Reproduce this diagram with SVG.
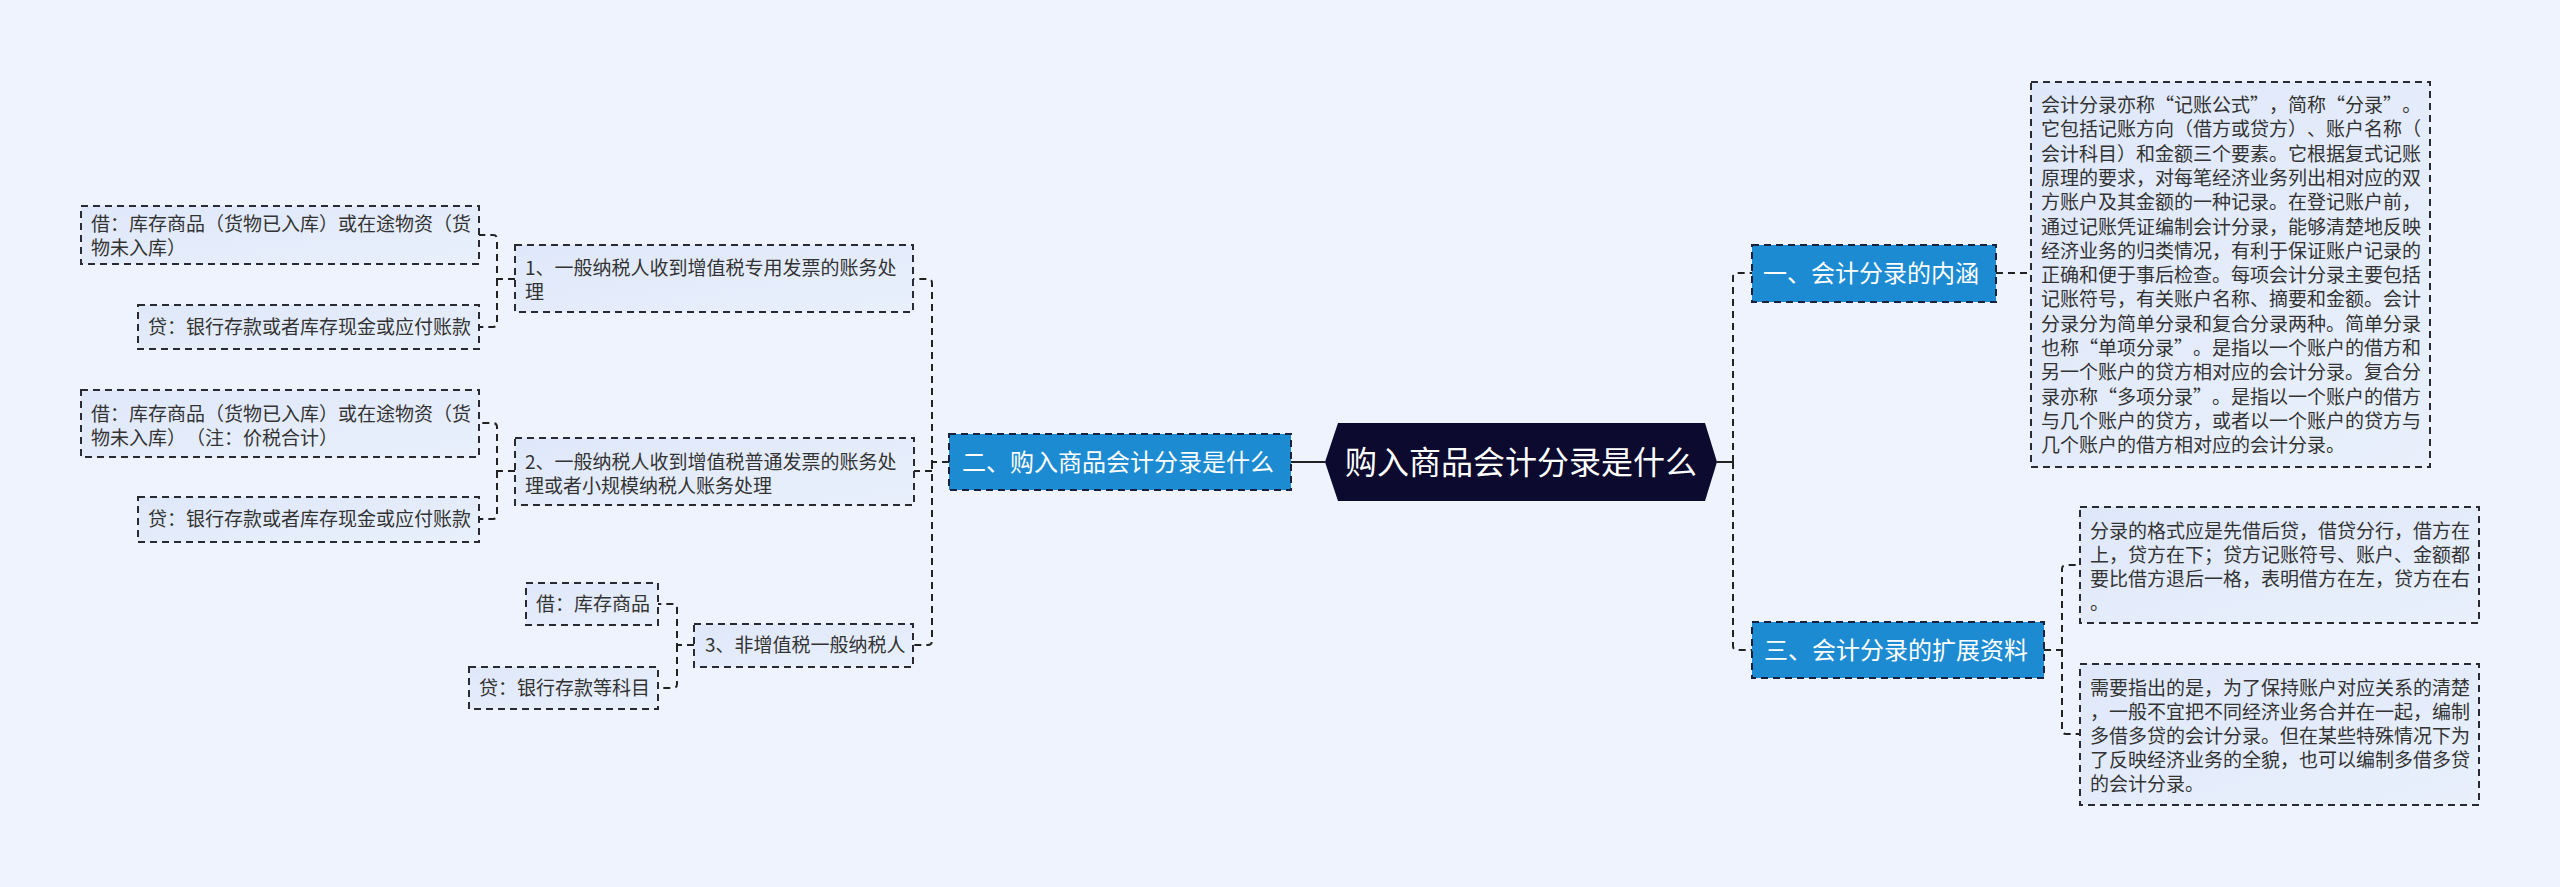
<svg xmlns="http://www.w3.org/2000/svg" width="2560" height="887" viewBox="0 0 2560 887">
<defs>
<linearGradient id="leafg" x1="0" y1="0" x2="1" y2="1">
<stop offset="0" stop-color="#dfe8fa"/>
<stop offset="1" stop-color="#e9f0fc"/>
</linearGradient>
<style>
.bg{fill:#eef3fd}
.leaf{fill:url(#leafg);stroke:#2a2a33;stroke-width:2;stroke-dasharray:7 5}
.blue{fill:#1d8bd2;stroke:#16223e;stroke-width:2;stroke-dasharray:7 5}
.root{fill:#0c0a2e}
text{text-spacing-trim:space-all}
.t{font-family:"Noto Sans CJK SC","Noto Sans",sans-serif;font-size:19px;fill:#333}
.tb{font-family:"Noto Sans CJK SC","Noto Sans",sans-serif;font-size:24px;fill:#fff}
.tr{font-family:"Noto Sans CJK SC","Noto Sans",sans-serif;font-size:32px;fill:#fff}
.fw{font-feature-settings:"fwid"}
.c{fill:none;stroke:#222;stroke-width:2;stroke-dasharray:7 5}
.cs{fill:none;stroke:#222;stroke-width:2}
</style>
</defs>
<rect class="bg" x="0" y="0" width="2560" height="887"/>
<g id="connectors">
<path class="cs" d="M1291 462 H1325"/>
<path class="cs" d="M1717 462 H1733"/>
<path class="c" d="M1733 462 V277 Q1733 273 1737 273 H1752"/>
<path class="c" d="M1733 462 V646 Q1733 650 1737 650 H1752"/>
<path class="c" d="M1996 273 H2031"/>
<path class="c" d="M2044 650 H2062 V569 Q2062 565 2066 565 H2080"/>
<path class="c" d="M2062 650 V730 Q2062 734 2066 734 H2080"/>
<path class="c" d="M949 462 H932 V283 Q932 279 928 279 H913"/>
<path class="c" d="M932 462 V641 Q932 645 928 645 H913"/>
<path class="c" d="M932 471 H914"/>
<path class="c" d="M515 279 H497 V239 Q497 235 493 235 H479"/>
<path class="c" d="M497 279 V323 Q497 327 493 327 H479"/>
<path class="c" d="M515 471 H497 V427 Q497 423 493 423 H479"/>
<path class="c" d="M497 471 V515 Q497 519 493 519 H479"/>
<path class="c" d="M694 645 H677 V608 Q677 604 673 604 H658"/>
<path class="c" d="M677 645 V684 Q677 688 673 688 H658"/>
</g>
<g id="root">
<polygon class="root" points="1325,462 1338,423 1705,423 1717,462 1705,501 1338,501"/>
<text class="tr" x="1521" y="474" text-anchor="middle">购入商品会计分录是什么</text>
</g>
<g id="n1">
<rect class="blue" x="1752" y="245" width="244" height="57"/>
<text class="tb" x="1763" y="282">一、会计分录的内涵</text>
</g>
<g id="n2">
<rect class="blue" x="949" y="434" width="342" height="56"/>
<text class="tb" x="962" y="471">二、购入商品会计分录是什么</text>
</g>
<g id="n3">
<rect class="blue" x="1752" y="622" width="292" height="56"/>
<text class="tb" x="1764" y="659">三、会计分录的扩展资料</text>
</g>
<g id="n1d">
<rect class="leaf" x="2031" y="82" width="399" height="385"/>
<text class="t">
<tspan x="2041" y="112">会计分录亦称<tspan class="fw">“</tspan>记账公式<tspan class="fw">”</tspan>，简称<tspan class="fw">“</tspan>分录<tspan class="fw">”</tspan>。</tspan>
<tspan x="2041" y="136.3">它包括记账方向（借方或贷方）、账户名称（</tspan>
<tspan x="2041" y="160.6">会计科目）和金额三个要素。它根据复式记账</tspan>
<tspan x="2041" y="184.9">原理的要求，对每笔经济业务列出相对应的双</tspan>
<tspan x="2041" y="209.2">方账户及其金额的一种记录。在登记账户前，</tspan>
<tspan x="2041" y="233.5">通过记账凭证编制会计分录，能够清楚地反映</tspan>
<tspan x="2041" y="257.8">经济业务的归类情况，有利于保证账户记录的</tspan>
<tspan x="2041" y="282.1">正确和便于事后检查。每项会计分录主要包括</tspan>
<tspan x="2041" y="306.4">记账符号，有关账户名称、摘要和金额。会计</tspan>
<tspan x="2041" y="330.7">分录分为简单分录和复合分录两种。简单分录</tspan>
<tspan x="2041" y="355">也称<tspan class="fw">“</tspan>单项分录<tspan class="fw">”</tspan>。是指以一个账户的借方和</tspan>
<tspan x="2041" y="379.3">另一个账户的贷方相对应的会计分录。复合分</tspan>
<tspan x="2041" y="403.6">录亦称<tspan class="fw">“</tspan>多项分录<tspan class="fw">”</tspan>。是指以一个账户的借方</tspan>
<tspan x="2041" y="427.9">与几个账户的贷方，或者以一个账户的贷方与</tspan>
<tspan x="2041" y="452.2">几个账户的借方相对应的会计分录。</tspan>
</text>
</g>
<g id="n3a">
<rect class="leaf" x="2080" y="507" width="399" height="116"/>
<text class="t">
<tspan x="2090" y="538">分录的格式应是先借后贷，借贷分行，借方在</tspan>
<tspan x="2090" y="562">上，贷方在下；贷方记账符号、账户、金额都</tspan>
<tspan x="2090" y="586">要比借方退后一格，表明借方在左，贷方在右</tspan>
<tspan x="2090" y="610">。</tspan>
</text>
</g>
<g id="n3b">
<rect class="leaf" x="2080" y="664" width="399" height="141"/>
<text class="t">
<tspan x="2090" y="695">需要指出的是，为了保持账户对应关系的清楚</tspan>
<tspan x="2090" y="719">，一般不宜把不同经济业务合并在一起，编制</tspan>
<tspan x="2090" y="743">多借多贷的会计分录。但在某些特殊情况下为</tspan>
<tspan x="2090" y="767">了反映经济业务的全貌，也可以编制多借多贷</tspan>
<tspan x="2090" y="791">的会计分录。</tspan>
</text>
</g>
<g id="s1">
<rect class="leaf" x="515" y="245" width="398" height="67"/>
<text class="t">
<tspan x="525" y="275">1、一般纳税人收到增值税专用发票的账务处</tspan>
<tspan x="525" y="299">理</tspan>
</text>
</g>
<g id="s2">
<rect class="leaf" x="515" y="438" width="399" height="67"/>
<text class="t">
<tspan x="525" y="469">2、一般纳税人收到增值税普通发票的账务处</tspan>
<tspan x="525" y="493">理或者小规模纳税人账务处理</tspan>
</text>
</g>
<g id="s3">
<rect class="leaf" x="694" y="624" width="219" height="43"/>
<text class="t" x="705" y="652">3、非增值税一般纳税人</text>
</g>
<g id="s1a">
<rect class="leaf" x="81" y="206" width="398" height="58"/>
<text class="t">
<tspan x="91" y="231">借：库存商品（货物已入库）或在途物资（货</tspan>
<tspan x="91" y="255">物未入库）</tspan>
</text>
</g>
<g id="s1b">
<rect class="leaf" x="138" y="305" width="341" height="44"/>
<text class="t" x="148" y="334">贷：银行存款或者库存现金或应付账款</text>
</g>
<g id="s2a">
<rect class="leaf" x="81" y="390" width="398" height="67"/>
<text class="t">
<tspan x="91" y="421">借：库存商品（货物已入库）或在途物资（货</tspan>
<tspan x="91" y="445">物未入库）（注：价税合计）</tspan>
</text>
</g>
<g id="s2b">
<rect class="leaf" x="138" y="497" width="341" height="45"/>
<text class="t" x="148" y="526">贷：银行存款或者库存现金或应付账款</text>
</g>
<g id="s3a">
<rect class="leaf" x="526" y="583" width="132" height="42"/>
<text class="t" x="536" y="611">借：库存商品</text>
</g>
<g id="s3b">
<rect class="leaf" x="469" y="667" width="189" height="42"/>
<text class="t" x="479" y="695">贷：银行存款等科目</text>
</g>
</svg>
